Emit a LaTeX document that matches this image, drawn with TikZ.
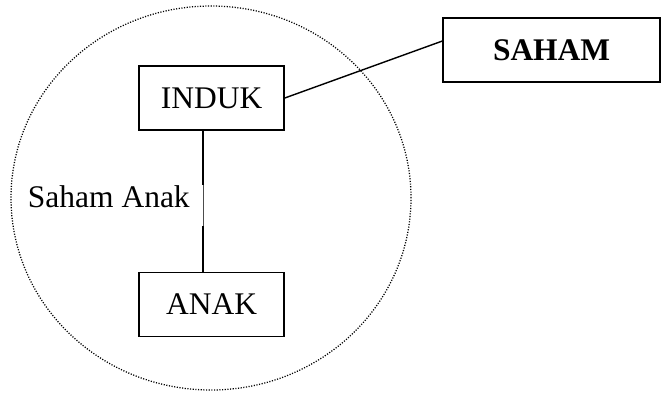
\documentclass[tikz,border=0pt]{standalone}
\usepackage{fontspec}
\setmainfont{Liberation Serif}
\usepackage{tikz}
\usetikzlibrary{shapes.geometric, positioning}
\tikzstyle{entity} = [rectangle, minimum width=3.625cm, minimum height=1.6cm, text centered, draw=black, line width=1pt, font=\fontsize{22.4}{26}\selectfont]
\tikzstyle{group} = [draw=black, line width=0.9pt, dash pattern=on 0.8pt off 1.1pt]
\tikzstyle{link} = [draw=black, line width=1pt]

\begin{document}
\begin{tikzpicture}
  \useasboundingbox (0,0) rectangle (16.55,9.8);

  % lingkaran kelompok usaha
  \node (grup) [group, ellipse, minimum width=10cm, minimum height=9.6cm] at (5.275,4.85) {};

  \node (induk) [entity] at (5.29,7.35) {INDUK};
  \node (anak) [entity, below=3.525cm of induk] {ANAK};
  \node (saham) [entity, minimum width=5.425cm, font=\fontsize{22.4}{26}\selectfont\bfseries] at (13.79,8.55) {SAHAM};

  \node (ket) [anchor=base east, inner sep=0pt, font=\fontsize{22.4}{26}\selectfont] at (4.75,4.625) {Saham Anak};

  \coordinate (k1) at (5.075,5.175);
  \coordinate (k2) at (5.075,4.15);

  \draw [link] (induk.east) -- ([yshift=0.225cm]saham.west);
  \draw [link] (induk.south -| k1) -- (k1);
  \draw [black!70, line width=0.6pt] (k1) -- (k2);
  \draw [link] (k2) -- (anak.north -| k2);

\end{tikzpicture}
\end{document}
